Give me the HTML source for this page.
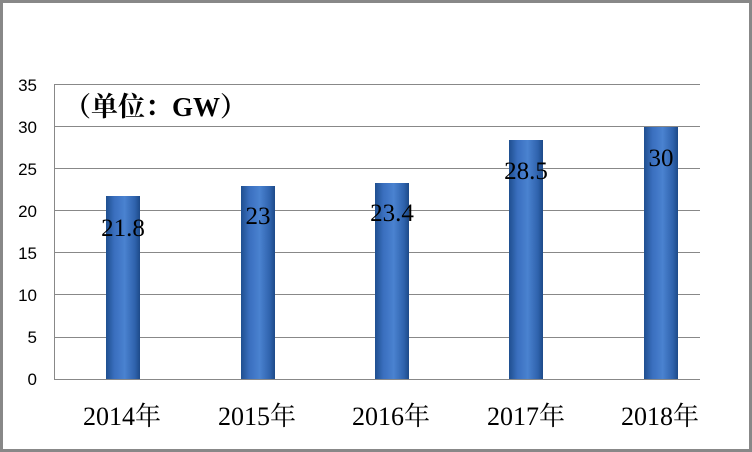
<!DOCTYPE html><html><head><style>body{margin:0}svg{display:block}</style></head><body>
<svg width="752" height="452" xmlns="http://www.w3.org/2000/svg">
<defs><linearGradient id="g" x1="0" x2="1" y1="0" y2="0">
<stop offset="0" stop-color="#1f4f8f"/><stop offset="0.25" stop-color="#3a6fbf"/><stop offset="0.55" stop-color="#4a82d0"/><stop offset="0.85" stop-color="#2f63ad"/><stop offset="1" stop-color="#1d4a88"/></linearGradient></defs>
<rect x="1.5" y="1.5" width="749" height="449" fill="#fff" stroke="#888" stroke-width="3"/>
<g stroke="#888" stroke-width="1">
<line x1="54" x2="700" y1="84.5" y2="84.5"/><line x1="54" x2="700" y1="126.5" y2="126.5"/><line x1="54" x2="700" y1="168.5" y2="168.5"/><line x1="54" x2="700" y1="210.5" y2="210.5"/><line x1="54" x2="700" y1="252.5" y2="252.5"/><line x1="54" x2="700" y1="294.5" y2="294.5"/><line x1="54" x2="700" y1="337.5" y2="337.5"/><line x1="54" x2="700" y1="379.5" y2="379.5"/><line x1="54.5" x2="54.5" y1="84" y2="379"/>
</g>
<g font-family="Liberation Sans, sans-serif" font-size="17" fill="#000" text-anchor="end">
<text x="37" y="91">35</text><text x="37" y="133">30</text><text x="37" y="175">25</text><text x="37" y="217">20</text><text x="37" y="259">15</text><text x="37" y="301">10</text><text x="37" y="343">5</text><text x="37" y="385">0</text></g>
<g fill="url(#g)">
<rect x="106" y="196" width="34" height="183"/><rect x="241" y="186" width="34" height="193"/><rect x="375" y="183" width="34" height="196"/><rect x="509" y="140" width="34" height="239"/><rect x="644" y="127" width="34" height="252"/></g>
<g font-family="Liberation Serif, 'Noto Serif CJK SC', serif" font-size="25" fill="#000" text-anchor="middle">
<text x="123" y="236">21.8</text><text x="258" y="224">23</text><text x="392" y="221">23.4</text><text x="526" y="179">28.5</text><text x="661" y="166">30</text>
<g font-size="26"><text x="122" y="425">2014年</text><text x="257" y="425">2015年</text><text x="391" y="425">2016年</text><text x="526" y="425">2017年</text><text x="660" y="425">2018年</text></g>
<text x="64" y="116" font-size="27" font-weight="bold" text-anchor="start">（单位：GW）</text></g>
</svg></body></html>
